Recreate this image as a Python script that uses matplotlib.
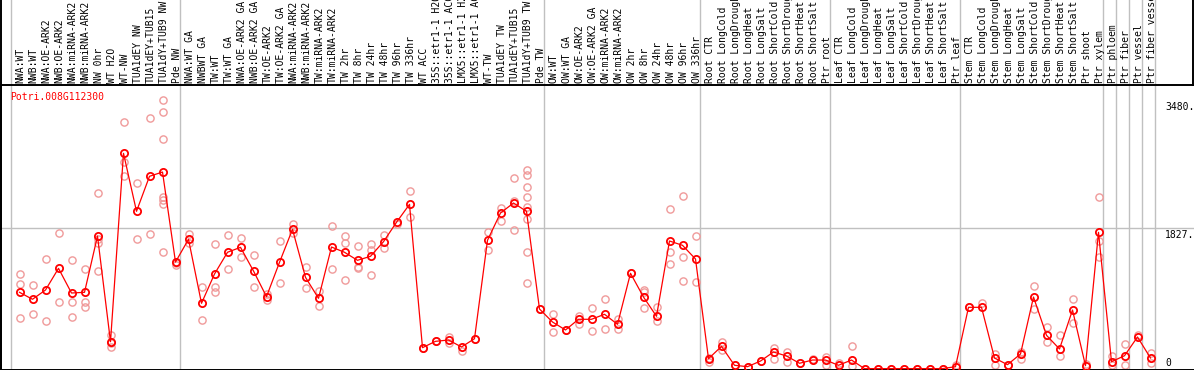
import numpy as np
import matplotlib
matplotlib.use("Agg")
import matplotlib.pyplot as plt
from matplotlib.transforms import blended_transform_factory

gene = "Potri.008G112300"

samples = [
    "NWA:WT", "NWB:WT", "NWA:OE-ARK2", "NWB:OE-ARK2", "NWA:miRNA-ARK2", "NWB:miRNA-ARK2",
    "NW 0hr", "WT H2O", "WT-NW", "TUA1dEY NW", "TUA1dEY+TUB15", "TUA1dY+TUB9 NW", "Pde NW",
    "NWA:WT GA", "NWBWT GA", "TW:WT", "TW:WT GA", "NWA:OE-ARK2 GA", "NWB:OE-ARK2 GA",
    "TW:OE-ARK2", "TW:OE-ARK2 GA", "NWA:miRNA-ARK2", "NWB:miRNA-ARK2", "TW:miRNA-ARK2",
    "TW:miRNA-ARK2", "TW 2hr", "TW 8hr", "TW 24hr", "TW 48hr", "TW 96hr", "TW 336hr",
    "WT ACC", "35S::etr1-1 H2O", "35S::etr1-1 ACC", "LMX5::etr1-1 H2O", "LMX5::etr1-1 ACC",
    "WT-TW", "TUA1dEY TW", "TUA1dEY+TUB15", "TUA1dY+TUB9 TW", "Pde TW",
    "OW:WT", "OW:WT GA", "OW:OE-ARK2", "OW:OE-ARK2 GA", "OW:miRNA-ARK2", "OW:miRNA-ARK2",
    "OW 2hr", "OW 8hr", "OW 24hr", "OW 48hr", "OW 96hr", "OW 336hr",
    "Root CTR", "Root LongCold", "Root LongDrought", "Root LongHeat", "Root LongSalt",
    "Root ShortCold", "Root ShortDrought", "Root ShortHeat", "Root ShortSalt", "Ptr root",
    "Leaf CTR", "Leaf LongCold", "Leaf LongDrought", "Leaf LongHeat", "Leaf LongSalt",
    "Leaf ShortCold", "Leaf ShortDrought", "Leaf ShortHeat", "Leaf ShortSalt", "Ptr leaf",
    "Stem CTR", "Stem LongCold", "Stem LongDrought", "Stem LongHeat", "Stem LongSalt",
    "Stem ShortCold", "Stem ShortDrought", "Stem ShortHeat", "Stem ShortSalt", "Ptr shoot",
    "Ptr xylem", "Ptr phloem", "Ptr fiber", "Ptr vessel", "Ptr fiber vessel",
]

mean_expr = [
    992, 902, 1022, 1302, 983, 992, 1720, 353, 2790, 2040, 2493, 2548, 1384,
    1678, 850, 1229, 1510, 1574, 1268, 936, 1380, 1807, 1186, 914, 1578, 1510,
    1406, 1458, 1647, 1898, 2130, 276, 358, 375, 285, 392, 1665, 2018, 2147, 2040, 776,
    608, 505, 643, 643, 708, 578, 1238, 931, 682, 1656, 1600, 1423,
    133, 293, 48, 30, 103, 220, 168, 74, 116, 116,
    48, 116, 5, 5, 5, 5, 5, 5, 5, 30,
    798, 798, 142, 56, 194, 931, 436, 259, 763, 43, 1768,
    94, 172, 414, 142,
]

rep_expr = [
    [1225, 1096, 656], [1087, 711], [1419, 621], [1755, 863], [1406, 863, 669],
    [1290, 863, 806], [2273, 1680, 1626, 1268], [440, 332, 289], [3191, 2682, 2497],
    [2402, 1678], [3243, 1746], [3480, 3321, 2971, 2229, 2186, 2130, 1510], [1367, 1345],
    [1746, 1626], [1065, 634], [1617, 1057, 1000], [1730, 1290], [1691, 1453],
    [1471, 1057], [970, 893], [1652, 1113], [1872, 1755], [1316, 1044], [1009, 811],
    [1846, 1290], [1717, 1634, 1147], [1587, 1323, 1302], [1617, 1536, 1212],
    [1734, 1569], [1872], [2303, 1970], [276], [358], [418, 332], [237], [392],
    [1768, 1536], [2079, 1915], [2467, 2173, 1794],
    [2574, 2510, 2350, 2221, 2100, 1937, 1510, 1113], [776],
    [711, 475], [505], [686, 582], [785, 488], [902, 514], [647, 517], [1238],
    [1022, 996, 785], [806, 625], [2070, 1517, 1358], [2234, 1445, 1134], [1720, 1121],
    [146, 94], [349, 246], [48], [30], [103], [268, 133], [220, 94], [74], [133],
    [159, 48], [74], [293, 39], [0], [0], [0], [0], [0], [0], [0], [48],
    [798], [858], [194, 48], [56], [220, 133], [1070, 780], [539, 353], [436, 172],
    [902, 591], [60], [2221, 1656, 1445], [172, 48], [320, 48], [444], [203, 82],
]

# separators sit after these column counts
group_ends = [0, 13, 41, 53, 63, 73, 84, 85, 86, 87, 88]
ytick_vals = [0, 1827, 3480]

W, H = 1194, 370
fig = plt.figure(figsize=(W / 100, H / 100), dpi=100)
mono = "DejaVu Sans Mono"

# pixel geometry: column k (0-based) centre at 19.5 + 13*k, value v at y = 369 - 0.0773*v
px_per_col = 13.0
px_per_val = 0.0773
ax_left, ax_top, ax_bot = 1, 85, 369.5
ax = fig.add_axes([ax_left / W, (H - ax_bot) / H, (W - ax_left) / W, (ax_bot - ax_top) / H])
ax.set_xlim((ax_left - 19.5) / px_per_col, (W - 19.5) / px_per_col)
ax.set_ylim((369 - ax_bot) / px_per_val, (369 - ax_top) / px_per_val)
ax.set_xticks([])
ax.set_yticks([])
for s in ["left", "bottom", "top"]:
    ax.spines[s].set_color("black")
    ax.spines[s].set_linewidth(1.4)
ax.spines["right"].set_visible(False)

x = np.arange(len(samples))
trans = blended_transform_factory(ax.transData, fig.transFigure)

# gray separators running through header and plot
for g in group_ends:
    xs = g - 1 + 4.5 / px_per_col
    ax.plot([xs, xs], [0, 1], color="#c0c0c0", lw=1.0, transform=trans, clip_on=False, zorder=0)
ax.axhline(1827, color="#c0c0c0", lw=1.0, zorder=0)

# frame of header
fig.add_artist(plt.Line2D([1 / W, 1 / W], [0, 1], color="black", lw=1.4))
fig.add_artist(plt.Line2D([1193.3 / W, 1193.3 / W], [(H - 85) / H, 1], color="black", lw=1.4))

# replicates
for i, reps in enumerate(rep_expr):
    ax.plot([x[i]] * len(reps), reps, "o", ms=5.2, mfc="none", mec="#f09a9a", mew=1.0,
            clip_on=False, zorder=2)

ax.plot(x, mean_expr, "-", color="red", lw=0.9, zorder=3, clip_on=False)
ax.plot(x, mean_expr, "o", ms=5.2, mfc="none", mec="red", mew=1.3, zorder=4, clip_on=False)

# header labels
for i, lab in enumerate(samples):
    ax.text(x[i] + 0.1, (H - 83) / H, lab, rotation=90, ha="center", va="bottom",
            fontsize=7, family=mono, color="black", transform=trans)

ax.text(10 / W, (H - 96.7) / H, gene, color="red", fontsize=7, family=mono,
        ha="left", va="center", transform=fig.transFigure)

# value labels at right
ylab_trans = blended_transform_factory(fig.transFigure, ax.transData)
for v in ytick_vals:
    txt = str(v) if v == 0 else str(v) + "."
    ax.text(1165 / W, v + (-(-8) if v == 0 else -90), txt, fontsize=7, family=mono,
            ha="left", va="bottom" if v == 0 else "center", transform=ylab_trans, clip_on=False)

fig.savefig("out.png", dpi=100)
